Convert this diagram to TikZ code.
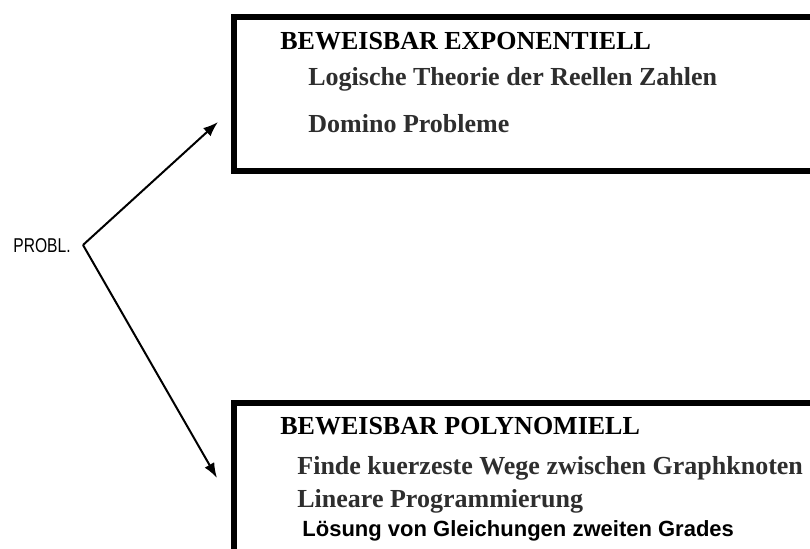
\documentclass[tikz,border=0pt]{standalone}
\usepackage{fontspec}
\setmainfont{Liberation Serif}
\newfontfamily\arialfont{Liberation Sans}
\usetikzlibrary{arrows.meta}
\definecolor{itemgray}{HTML}{2E2E2E}
\tikzset{
  boxframe/.style={draw=black, line width=3pt, inner sep=0pt, anchor=north west},
  headtext/.style={anchor=base west, inner sep=0pt, font=\fontsize{13}{15}\selectfont\bfseries, text=black},
  itemtext/.style={anchor=base west, inner sep=0pt, font=\fontsize{13}{15}\selectfont\bfseries, text=itemgray},
  sanstext/.style={anchor=base west, inner sep=0pt, font=\fontsize{11}{13}\selectfont\arialfont\bfseries, text=black},
  conn/.style={draw=black, line width=1pt, -{Latex[length=7.5pt,width=5.5pt]}}
}
\begin{document}
\begin{tikzpicture}[x=0.5pt,y=-0.5pt]
\useasboundingbox (0,0) rectangle (810,549);
\clip (0,0) rectangle (810,549);
\fill[white] (0,0) rectangle (810,549);
% boxes
\node[boxframe, minimum width=299.5pt, minimum height=77pt] (expbox) at (231,14) {};
\node[boxframe, minimum width=299.5pt, minimum height=100pt] (polybox) at (231,400) {};
% top box texts
\node[headtext] (exph) at (280,50) {BEWEISBAR EXPONENTIELL};
\node[itemtext] (exp1) at (308,86) {Logische Theorie der Reellen Zahlen};
\node[itemtext] (exp2) at (308,133) {Domino Probleme};
% bottom box texts
\node[headtext] (polyh) at (280,435) {BEWEISBAR POLYNOMIELL};
\node[itemtext] (poly1) at (297,475) {Finde kuerzeste Wege zwischen Graphknoten};
\node[itemtext] (poly2) at (297,508) {Lineare Programmierung};
\node[sanstext] (poly3) at (302,537) {Lösung von Gleichungen zweiten Grades};
% problem label
\node[anchor=base west, inner sep=0pt, font=\fontsize{10}{12}\selectfont\arialfont] (probl) at (13,253) {\scalebox{0.78}[1]{PROBL.}};
\coordinate (junc) at (83,245);
\coordinate (tipup) at (218,122);
\coordinate (tipdown) at (217,478);
\draw[conn] (junc) -- (tipup);
\draw[conn] (junc) -- (tipdown);
\end{tikzpicture}
\end{document}
